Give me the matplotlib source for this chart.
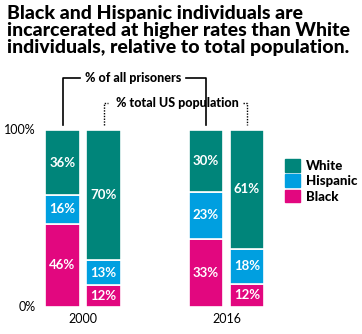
import matplotlib.pyplot as plt
from matplotlib.patches import Patch

plt.rcParams["font.family"] = ["Lato", "DejaVu Sans"]

groups = ["2000", "2016"]
races = ["Black", "Hispanic", "White"]
prisoners = {"Black": [46, 33], "Hispanic": [16, 23], "White": [36, 30]}
population = {"Black": [12, 12], "Hispanic": [13, 18], "White": [70, 61]}
colors = {"Black": "#e2077f", "Hispanic": "#009fe0", "White": "#00857a"}

fig = plt.figure(figsize=(3.62, 3.34), dpi=100)
ax = fig.add_axes([0.0028, 0.0808, 0.7928, 0.530])

x_pris = [0, 3.5]
x_pop = [1, 4.5]
w = 0.84


def stack(xs, data):
    # each bar is drawn as share of its own total (100% stacked)
    totals = [sum(data[r][i] for r in races) for i in range(len(xs))]
    bottom = [0, 0]
    for r in races:
        h = [v / t * 100 for v, t in zip(data[r], totals)]
        bars = ax.bar(xs, h, w, bottom=bottom, color=colors[r],
                      edgecolor="white", linewidth=1.2)
        for b, v, hh, b0 in zip(bars, data[r], h, bottom):
            ax.text(b.get_x() + b.get_width() / 2, b0 + hh / 2, f"{v}%",
                    ha="center", va="center", color="white",
                    fontsize=9.5, fontweight="bold")
        bottom = [a + v for a, v in zip(bottom, h)]


stack(x_pris, prisoners)
stack(x_pop, population)

ax.set_xlim(-1.5, 5.5)
ax.set_ylim(0, 100)
for s in ax.spines.values():
    s.set_visible(False)
ax.set_xticks([])
ax.set_yticks([])

# axis labels
ax.text(-0.66, 100, "100%", ha="right", va="center", fontsize=9)
ax.text(-0.66, 0, "0%", ha="right", va="center", fontsize=9)
for xp, g in zip([0.5, 4.0], groups):
    ax.text(xp, -7, g, ha="center", va="center", fontsize=9)

# brackets
kw = dict(color="black", lw=1.2, clip_on=False)
ax.plot([0, 0, 0.43], [102.8, 129.4, 129.4], **kw)
ax.plot([3.0, 3.5, 3.5], [129.4, 129.4, 102.8], **kw)
ax.text(1.72, 129.4, "% of all prisoners", ha="center", va="center",
        fontsize=9, fontweight="black")
kd = dict(color="black", lw=1.0, ls=(0, (1, 1)), clip_on=False)
ax.plot([1, 1, 1.11], [102.8, 115.3, 115.3], **kd)
ax.plot([4.4, 4.5, 4.5], [115.3, 115.3, 102.8], **kd)
ax.text(2.79, 115.3, "% total US population", ha="center", va="center",
        fontsize=9, fontweight="black")

# legend
handles = [Patch(color=colors[r], label=r) for r in ["White", "Hispanic", "Black"]]
fig.legend(handles=handles, loc="upper left", bbox_to_anchor=(0.755, 0.56),
           frameon=False, prop={"weight": "black", "size": 9.5},
           handlelength=1.1, handleheight=1.1, handletextpad=0.45,
           labelspacing=0.2)

fig.text(0.02, 0.985, "Black and Hispanic individuals are\n"
         "incarcerated at higher rates than White\n"
         "individuals, relative to total population.",
         ha="left", va="top", fontsize=14, fontweight="black",
         linespacing=1.0)

fig.savefig("out.png", dpi=100)
